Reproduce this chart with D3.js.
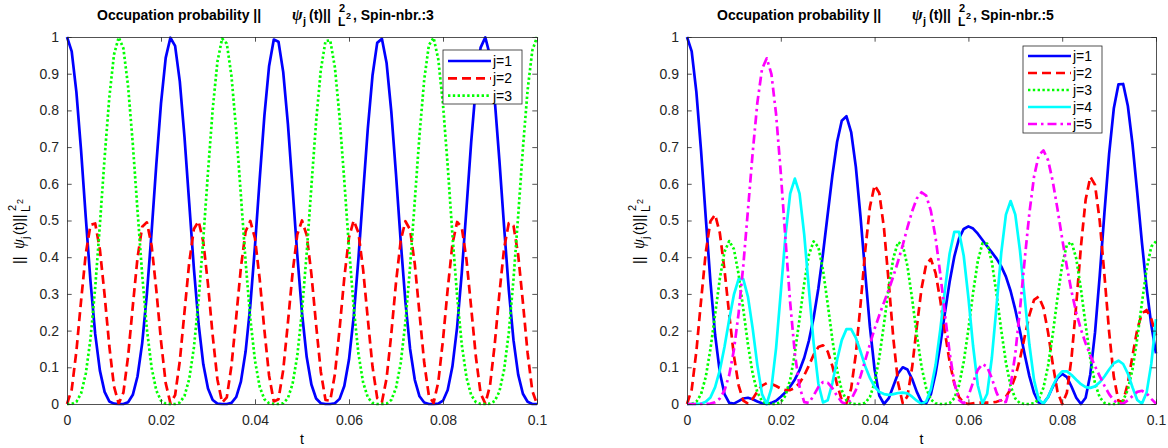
<!DOCTYPE html>
<html>
<head>
<meta charset="utf-8">
<script src="https://cdn.jsdelivr.net/npm/d3@7"></script>
<style>
body { margin: 0; background: #fff; }
svg { display: block; font-family: "Liberation Sans", Arial, Helvetica, sans-serif; }
</style>
</head>
<body>
<svg width="1168" height="448"></svg>
<script>
// sample times, 0 .. 0.1 in steps of 0.001
const tValues = d3.range(0, 101).map(i => i / 1000);
const xTicks = [0, 0.02, 0.04, 0.06, 0.08, 0.1];
const yTicks = [0, 0.1, 0.2, 0.3, 0.4, 0.5, 0.6, 0.7, 0.8, 0.9, 1];
const legendNames3 = ["j=1", "j=2", "j=3"];
const legendNames5 = ["j=1", "j=2", "j=3", "j=4", "j=5"];

// spin-nbr 3
const spin3_j1 = [1, 0.961, 0.850, 0.690, 0.508, 0.334, 0.191, 0.091, 0.033, 0.007,
  0.001, 0.000, 0.000, 0.005, 0.025, 0.075, 0.166, 0.300, 0.469, 0.652,
  0.819, 0.943, 0.998, 0.976, 0.879, 0.727, 0.548, 0.369, 0.218, 0.108,
  0.042, 0.011, 0.001, 0.000, 0.000, 0.003, 0.019, 0.061, 0.143, 0.268,
  0.431, 0.613, 0.786, 0.921, 0.993, 0.987, 0.905, 0.763, 0.587, 0.406,
  0.248, 0.128, 0.053, 0.015, 0.002, 0.000, 0.000, 0.002, 0.014, 0.049,
  0.121, 0.238, 0.395, 0.574, 0.750, 0.895, 0.984, 0.995, 0.929, 0.797,
  0.626, 0.444, 0.279, 0.150, 0.066, 0.021, 0.004, 0.000, 0.000, 0.001,
  0.009, 0.038, 0.102, 0.209, 0.358, 0.534, 0.714, 0.867, 0.971, 0.999,
  0.949, 0.830, 0.664, 0.483, 0.311, 0.174, 0.080, 0.028, 0.006, 0.000,
  0.000];
const spin3_j2 = [0, 0.039, 0.144, 0.282, 0.410, 0.488, 0.492, 0.421, 0.297, 0.158,
  0.048, 0.001, 0.031, 0.130, 0.267, 0.398, 0.483, 0.495, 0.432, 0.311,
  0.172, 0.057, 0.002, 0.024, 0.117, 0.251, 0.385, 0.477, 0.498, 0.442,
  0.326, 0.186, 0.067, 0.004, 0.018, 0.105, 0.236, 0.372, 0.470, 0.499,
  0.451, 0.340, 0.201, 0.077, 0.007, 0.013, 0.092, 0.221, 0.358, 0.462,
  0.500, 0.460, 0.354, 0.216, 0.088, 0.011, 0.009, 0.081, 0.205, 0.344,
  0.454, 0.500, 0.467, 0.367, 0.232, 0.102, 0.016, 0.005, 0.070, 0.191,
  0.331, 0.445, 0.498, 0.475, 0.381, 0.247, 0.113, 0.022, 0.003, 0.060,
  0.175, 0.313, 0.435, 0.496, 0.481, 0.393, 0.262, 0.128, 0.029, 0.001,
  0.050, 0.162, 0.301, 0.424, 0.493, 0.486, 0.406, 0.277, 0.139, 0.036,
  0.000];
const spin3_j3 = [0, 0.000, 0.006, 0.029, 0.083, 0.178, 0.317, 0.489, 0.671, 0.835,
  0.952, 0.999, 0.969, 0.865, 0.709, 0.528, 0.352, 0.204, 0.099, 0.037,
  0.009, 0.001, 0.000, 0.000, 0.004, 0.022, 0.068, 0.154, 0.284, 0.450,
  0.632, 0.803, 0.932, 0.996, 0.982, 0.893, 0.745, 0.568, 0.388, 0.233,
  0.118, 0.047, 0.013, 0.002, 0.000, 0.000, 0.002, 0.016, 0.055, 0.132,
  0.253, 0.412, 0.593, 0.769, 0.910, 0.989, 0.991, 0.917, 0.781, 0.608,
  0.426, 0.263, 0.138, 0.059, 0.018, 0.003, 0.000, 0.000, 0.001, 0.011,
  0.044, 0.111, 0.223, 0.375, 0.554, 0.733, 0.883, 0.978, 0.998, 0.939,
  0.816, 0.649, 0.462, 0.295, 0.161, 0.072, 0.024, 0.005, 0.000, 0.000,
  0.001, 0.008, 0.034, 0.093, 0.195, 0.340, 0.514, 0.696, 0.855, 0.963,
  1.000];

// spin-nbr 5
const spin5_j1 = [1, 0.961, 0.850, 0.690, 0.508, 0.333, 0.188, 0.086, 0.027, 0.003,
  0.001, 0.008, 0.015, 0.017, 0.013, 0.007, 0.002, 0.000, 0.003, 0.009,
  0.020, 0.032, 0.048, 0.067, 0.092, 0.126, 0.173, 0.235, 0.314, 0.410,
  0.517, 0.623, 0.714, 0.772, 0.784, 0.741, 0.646, 0.510, 0.356, 0.210,
  0.094, 0.023, 0.000, 0.015, 0.049, 0.083, 0.100, 0.094, 0.068, 0.033,
  0.006, 0.002, 0.027, 0.083, 0.161, 0.249, 0.333, 0.402, 0.451, 0.477,
  0.484, 0.478, 0.464, 0.447, 0.430, 0.413, 0.396, 0.375, 0.347, 0.308,
  0.257, 0.198, 0.135, 0.076, 0.030, 0.004, 0.002, 0.019, 0.047, 0.071,
  0.082, 0.073, 0.047, 0.017, 0.000, 0.017, 0.081, 0.195, 0.349, 0.520,
  0.681, 0.805, 0.871, 0.872, 0.812, 0.707, 0.576, 0.440, 0.316, 0.215,
  0.138];
const spin5_j2 = [0, 0.039, 0.144, 0.282, 0.413, 0.498, 0.516, 0.466, 0.365, 0.244,
  0.132, 0.051, 0.009, 0.001, 0.014, 0.034, 0.050, 0.057, 0.055, 0.049,
  0.042, 0.038, 0.038, 0.044, 0.057, 0.078, 0.105, 0.134, 0.155, 0.160,
  0.143, 0.103, 0.053, 0.011, 0.002, 0.042, 0.136, 0.271, 0.418, 0.537,
  0.596, 0.575, 0.479, 0.333, 0.178, 0.058, 0.002, 0.021, 0.100, 0.210,
  0.314, 0.381, 0.395, 0.357, 0.283, 0.195, 0.115, 0.055, 0.019, 0.003,
  0.000, 0.002, 0.004, 0.004, 0.004, 0.004, 0.006, 0.010, 0.020, 0.040,
  0.074, 0.123, 0.183, 0.242, 0.284, 0.293, 0.262, 0.194, 0.108, 0.033,
  0.000, 0.031, 0.127, 0.272, 0.430, 0.557, 0.619, 0.597, 0.499, 0.352,
  0.197, 0.074, 0.008, 0.007, 0.057, 0.132, 0.203, 0.247, 0.256, 0.232,
  0.187];
const spin5_j3 = [0, 0.000, 0.006, 0.027, 0.074, 0.150, 0.245, 0.342, 0.415, 0.444,
  0.422, 0.354, 0.259, 0.162, 0.083, 0.032, 0.008, 0.001, 0.000, 0.000,
  0.005, 0.023, 0.066, 0.138, 0.232, 0.329, 0.407, 0.443, 0.428, 0.365,
  0.273, 0.175, 0.092, 0.037, 0.010, 0.001, 0.000, 0.000, 0.003, 0.019,
  0.058, 0.126, 0.218, 0.317, 0.398, 0.441, 0.433, 0.376, 0.287, 0.188,
  0.102, 0.043, 0.012, 0.002, 0.000, 0.000, 0.002, 0.016, 0.051, 0.115,
  0.204, 0.303, 0.389, 0.438, 0.437, 0.387, 0.300, 0.201, 0.113, 0.049,
  0.015, 0.002, 0.000, 0.000, 0.002, 0.013, 0.044, 0.105, 0.191, 0.290,
  0.379, 0.434, 0.441, 0.396, 0.313, 0.215, 0.123, 0.056, 0.018, 0.003,
  0.000, 0.000, 0.001, 0.010, 0.039, 0.095, 0.178, 0.276, 0.368, 0.429,
  0.443];
const spin5_j4 = [0, 0.000, 0.000, 0.001, 0.006, 0.018, 0.046, 0.092, 0.156, 0.230,
  0.298, 0.340, 0.340, 0.292, 0.206, 0.106, 0.027, 0.000, 0.043, 0.153,
  0.305, 0.459, 0.573, 0.614, 0.573, 0.461, 0.312, 0.166, 0.056, 0.004,
  0.010, 0.057, 0.120, 0.174, 0.204, 0.204, 0.180, 0.143, 0.103, 0.071,
  0.047, 0.033, 0.027, 0.025, 0.027, 0.030, 0.031, 0.029, 0.020, 0.009,
  0.000, 0.007, 0.040, 0.106, 0.202, 0.312, 0.410, 0.469, 0.469, 0.404,
  0.290, 0.158, 0.051, 0.001, 0.028, 0.126, 0.267, 0.411, 0.516, 0.553,
  0.516, 0.418, 0.289, 0.162, 0.065, 0.012, 0.001, 0.019, 0.049, 0.075,
  0.089, 0.089, 0.079, 0.066, 0.054, 0.046, 0.044, 0.048, 0.059, 0.075,
  0.094, 0.111, 0.118, 0.109, 0.083, 0.045, 0.011, 0.001, 0.031, 0.110,
  0.231];
const spin5_j5 = [0, 0.000, 0.000, 0.000, 0.000, 0.001, 0.005, 0.015, 0.037, 0.079,
  0.147, 0.247, 0.377, 0.529, 0.684, 0.821, 0.913, 0.942, 0.899, 0.789,
  0.629, 0.449, 0.276, 0.137, 0.047, 0.005, 0.003, 0.023, 0.046, 0.060,
  0.058, 0.043, 0.022, 0.005, 0.000, 0.012, 0.038, 0.076, 0.119, 0.163,
  0.205, 0.242, 0.277, 0.311, 0.348, 0.389, 0.433, 0.481, 0.525, 0.560,
  0.577, 0.568, 0.526, 0.453, 0.355, 0.244, 0.140, 0.058, 0.011, 0.001,
  0.022, 0.059, 0.093, 0.109, 0.101, 0.070, 0.031, 0.004, 0.006, 0.050,
  0.137, 0.258, 0.393, 0.520, 0.620, 0.678, 0.691, 0.664, 0.606, 0.531,
  0.450, 0.374, 0.306, 0.249, 0.203, 0.165, 0.132, 0.103, 0.076, 0.050,
  0.027, 0.010, 0.001, 0.001, 0.010, 0.022, 0.033, 0.036, 0.029, 0.014,
  0.001];

// line styles like matlab: b-, r--, g:, c-, m-.
const styles = [
  { color: "#0000ff", dash: null },
  { color: "#ff0000", dash: "9,5" },
  { color: "#00ff00", dash: "2.4,2.4" },
  { color: "#00ffff", dash: null },
  { color: "#ff00ff", dash: "9,4,2.5,4" }
];

const svg = d3.select("svg");
const plotTop = 37, plotBottom = 404;
const axisColor = "#262626";
const tickLen = 4.7;

// title / ylabel with sub- and superscripts placed piece by piece
function mathText(parent, x, y, rotate, pieces, weight) {
  const g = parent.append("g")
    .attr("transform", `translate(${x},${y})` + (rotate ? " rotate(-90)" : ""))
    .attr("font-weight", weight)
    .attr("fill", "#000");
  pieces.forEach(p => {
    g.append("text")
      .attr("x", p.u)
      .attr("y", p.v || 0)
      .attr("font-size", p.size || 14)
      .attr("font-style", p.italic ? "italic" : null)
      .attr("font-family", p.serif ? "'Liberation Serif', 'DejaVu Serif', serif" : null)
      .text(p.t);
  });
}

function drawPanel(cfg) {
  const x = d3.scaleLinear().domain([0, 0.1]).range([cfg.left, cfg.right]);
  const y = d3.scaleLinear().domain([0, 1]).range([plotBottom, plotTop]);
  const g = svg.append("g");

  const line = d3.line()
    .x((d, i) => x(tValues[i]))
    .y(d => y(d));

  cfg.series.forEach((s, i) => {
    g.append("path")
      .datum(s)
      .attr("fill", "none")
      .attr("stroke", styles[i].color)
      .attr("stroke-width", 2.7)
      .attr("stroke-linejoin", "round")
      .attr("stroke-dasharray", styles[i].dash)
      .attr("d", line);
  });

  const fmt = d3.format("~g");
  const styleAxis = sel => {
    sel.select(".domain").attr("stroke", axisColor).attr("stroke-width", 0.8);
    sel.selectAll(".tick line").attr("stroke", axisColor).attr("stroke-width", 0.8);
    sel.selectAll("text").attr("fill", axisColor).attr("font-size", 14)
      .attr("font-family", "'Liberation Sans', Arial, Helvetica, sans-serif");
  };

  g.append("g").attr("transform", `translate(0,${plotBottom})`)
    .call(d3.axisBottom(x).tickValues(xTicks).tickSize(-tickLen).tickSizeOuter(0).tickPadding(11).tickFormat(fmt))
    .call(styleAxis);
  g.append("g").attr("transform", `translate(0,${plotTop})`)
    .call(d3.axisTop(x).tickValues(xTicks).tickSize(-tickLen).tickSizeOuter(0).tickFormat(""))
    .call(styleAxis);
  g.append("g").attr("transform", `translate(${cfg.left},0)`)
    .call(d3.axisLeft(y).tickValues(yTicks).tickSize(-tickLen).tickSizeOuter(0).tickPadding(8).tickFormat(fmt))
    .call(styleAxis);
  g.append("g").attr("transform", `translate(${cfg.right},0)`)
    .call(d3.axisRight(y).tickValues(yTicks).tickSize(-tickLen).tickSizeOuter(0).tickFormat(""))
    .call(styleAxis);

  // legend
  const lg = g.append("g").attr("transform", `translate(${cfg.legend.x},${cfg.legend.y})`);
  lg.append("rect")
    .attr("width", cfg.legend.w)
    .attr("height", cfg.legend.h)
    .attr("fill", "#fff")
    .attr("stroke", axisColor)
    .attr("stroke-width", 0.8);
  cfg.names.forEach((name, i) => {
    const ly = cfg.legend.first + i * cfg.legend.step;
    lg.append("line")
      .attr("x1", 5).attr("x2", 48)
      .attr("y1", ly).attr("y2", ly)
      .attr("stroke", styles[i].color)
      .attr("stroke-width", 2.7)
      .attr("stroke-dasharray", styles[i].dash);
    lg.append("text")
      .attr("x", 50).attr("y", ly)
      .attr("dy", "0.35em")
      .attr("font-size", 14)
      .attr("fill", "#000")
      .text(name);
  });

  // x label
  g.append("text")
    .attr("x", (cfg.left + cfg.right) / 2)
    .attr("y", 444)
    .attr("text-anchor", "middle")
    .attr("font-size", 14)
    .attr("fill", "#000")
    .text("t");

  // title
  mathText(g, cfg.left + 30, 20, false, [
    { t: "Occupation probability ||", u: 0 },
    { t: "ψ", u: 195, italic: true, serif: true, size: 16 },
    { t: "j", u: 206, v: 5, size: 11 },
    { t: "(t)||", u: 212 },
    { t: "2", u: 242, v: -8, size: 11 },
    { t: "L", u: 241, v: 6, size: 12 },
    { t: "2", u: 249, v: -1, size: 9 },
    { t: ", Spin-nbr.:" + cfg.spin, u: 256 }
  ], "bold");

  // y label
  mathText(g, cfg.left - 43, 264, true, [
    { t: "||", u: 0 },
    { t: "ψ", u: 15, italic: true, serif: true, size: 16 },
    { t: "j", u: 25, v: 5, size: 11 },
    { t: "(t)||", u: 29 },
    { t: "2", u: 53, v: -8, size: 11 },
    { t: "L", u: 52, v: 6, size: 12 },
    { t: "2", u: 60, v: -1, size: 9 }
  ], "normal");
}

drawPanel({
  left: 67, right: 537, spin: 3,
  series: [spin3_j1, spin3_j2, spin3_j3],
  names: legendNames3,
  legend: { x: 443, y: 50, w: 79, h: 54, first: 11, step: 17.3 }
});

drawPanel({
  left: 687, right: 1156, spin: 5,
  series: [spin5_j1, spin5_j2, spin5_j3, spin5_j4, spin5_j5],
  names: legendNames5,
  legend: { x: 1023, y: 46, w: 79, h: 87, first: 10, step: 17 }
});
</script>
</body>
</html>
